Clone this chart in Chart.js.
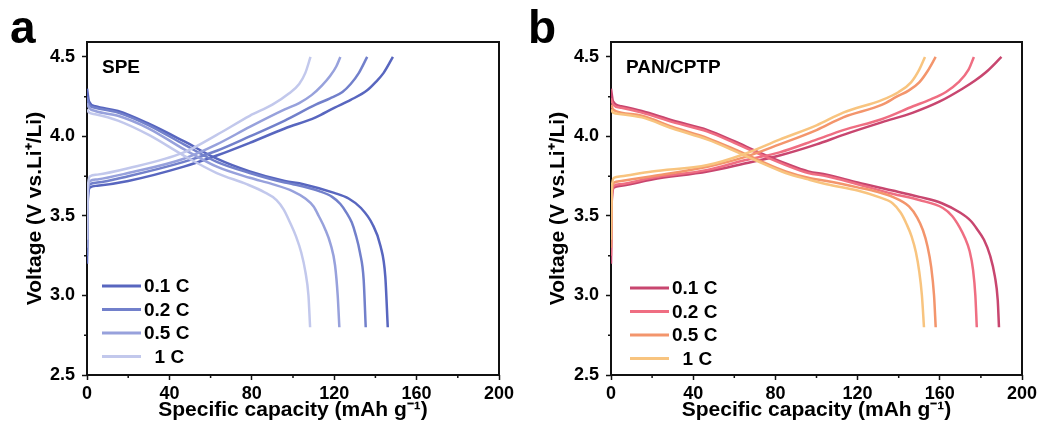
<!DOCTYPE html>
<html lang="en">
<head>
  <meta charset="UTF-8">
  <title>Charge / discharge curves</title>
  <script src="https://cdn.jsdelivr.net/npm/chart.js"></script>
  <style>
    body {
      margin: 0;
      background: #fff;
    }

    .panel {
      position: absolute;
      top: 0;
    }

    #panelA { left: 0; }
    #panelB { left: 520px; }
  </style>
</head>
<body>
  <div class="panel" id="panelA"><canvas id="speChart" width="520" height="434"></canvas></div>
  <div class="panel" id="panelB"><canvas id="panChart" width="524" height="434"></canvas></div>

  <script>
    const rates = ['0.1 C', '0.2 C', '0.5 C', '  1 C'];
    const xTicks = [0, 40, 80, 120, 160, 200];
    const xMinor = [20, 60, 100, 140, 180];
    const yTicks = [2.5, 3.0, 3.5, 4.0, 4.5];
    const yMinor = [2.75, 3.25, 3.75, 4.25];

    const speColors = ['#5866bf', '#7280cb', '#97a1dc', '#c2c8ec'];
    const panColors = ['#c8466f', '#ef6e82', '#f3956c', '#f8c47f'];

    // [capacity mAh/g, voltage V], one curve per rate
    const speCharge = [
      [[0, 3.2], [0.4, 3.6], [1.5, 3.68], [5, 3.69], [20, 3.72], [47, 3.81], [63, 3.88], [79, 3.96], [96, 4.05], [111, 4.12], [120, 4.18], [128, 4.23], [136, 4.29], [140, 4.34], [144, 4.40], [148.5, 4.5]],
      [[0, 3.25], [0.4, 3.62], [1.5, 3.70], [5, 3.71], [20, 3.75], [47, 3.84], [63, 3.91], [79, 4.00], [96, 4.10], [111, 4.20], [118, 4.24], [124, 4.28], [128, 4.33], [132, 4.40], [136, 4.5]],
      [[0, 3.3], [0.4, 3.65], [1.5, 3.72], [5, 3.73], [20, 3.77], [47, 3.86], [63, 3.95], [79, 4.06], [96, 4.17], [103, 4.21], [109, 4.26], [114, 4.32], [118, 4.38], [121, 4.44], [123, 4.5]],
      [[0, 3.35], [0.4, 3.68], [1.5, 3.75], [5, 3.76], [20, 3.80], [47, 3.90], [63, 4.01], [79, 4.13], [90, 4.20], [98, 4.27], [103, 4.33], [106, 4.40], [108.5, 4.5]]
    ];
    const speDischarge = [
      [[0, 4.30], [1, 4.22], [4, 4.19], [15, 4.16], [30, 4.08], [47, 3.97], [63, 3.86], [79, 3.78], [96, 3.72], [105, 3.70], [120, 3.645], [127, 3.61], [133, 3.55], [138.5, 3.45], [142.5, 3.31], [144.8, 3.12], [146, 2.8]],
      [[0, 4.25], [1, 4.20], [4, 4.18], [15, 4.15], [30, 4.07], [47, 3.95], [63, 3.84], [79, 3.77], [96, 3.71], [100, 3.70], [113, 3.655], [119, 3.62], [123, 3.575], [126, 3.52], [128.5, 3.46], [130.5, 3.38], [132.5, 3.27], [134.3, 3.10], [135.3, 2.8]],
      [[0, 4.21], [1, 4.18], [4, 4.16], [15, 4.13], [30, 4.05], [47, 3.92], [63, 3.81], [79, 3.74], [90, 3.70], [100, 3.655], [106, 3.61], [110, 3.56], [112.5, 3.50], [115.5, 3.42], [118.3, 3.32], [120.4, 3.19], [121.7, 3.0], [122.5, 2.8]],
      [[0, 4.17], [1, 4.15], [4, 4.14], [15, 4.10], [30, 4.01], [47, 3.88], [63, 3.77], [77.5, 3.70], [86, 3.65], [92, 3.60], [95.5, 3.54], [98.5, 3.46], [101.5, 3.37], [104, 3.27], [106, 3.15], [107.5, 3.0], [108.3, 2.8]]
    ];
    const panCharge = [
      [[0, 3.2], [0.4, 3.6], [1.5, 3.68], [5, 3.69], [20, 3.73], [47, 3.78], [65, 3.83], [82, 3.88], [100, 3.95], [113, 4.01], [132, 4.09], [147, 4.15], [160, 4.22], [171, 4.30], [177, 4.35], [183, 4.41], [190, 4.5]],
      [[0, 3.25], [0.4, 3.62], [1.5, 3.69], [5, 3.70], [20, 3.74], [47, 3.79], [65, 3.85], [82, 3.90], [100, 3.98], [113, 4.04], [132, 4.11], [147, 4.19], [155, 4.23], [163, 4.28], [169, 4.34], [174, 4.42], [176.6, 4.5]],
      [[0, 3.3], [0.4, 3.65], [1.5, 3.71], [5, 3.72], [20, 3.75], [47, 3.81], [65, 3.87], [82, 3.95], [100, 4.04], [113, 4.12], [132, 4.20], [139, 4.25], [145, 4.29], [150, 4.34], [154, 4.41], [158, 4.5]],
      [[0, 3.35], [0.4, 3.68], [1.5, 3.74], [5, 3.75], [20, 3.78], [47, 3.82], [65, 3.89], [82, 3.98], [100, 4.07], [113, 4.15], [132, 4.23], [140, 4.28], [146, 4.34], [150, 4.42], [152.8, 4.5]]
    ];
    const panDischarge = [
      [[0, 4.30], [1, 4.22], [5, 4.19], [15, 4.16], [30, 4.10], [47, 4.04], [60, 3.97], [72, 3.90], [85, 3.83], [96, 3.78], [105, 3.76], [120, 3.71], [137, 3.66], [150, 3.62], [161, 3.58], [170, 3.52], [175, 3.47], [178, 3.42], [181.5, 3.35], [184.5, 3.25], [186.8, 3.12], [188.2, 2.97], [188.8, 2.8]],
      [[0, 4.24], [1, 4.20], [5, 4.18], [15, 4.15], [30, 4.09], [47, 4.03], [60, 3.96], [72, 3.89], [85, 3.82], [96, 3.77], [105, 3.75], [120, 3.70], [137, 3.64], [150, 3.60], [161.5, 3.55], [166, 3.50], [169.6, 3.43], [172.3, 3.36], [174.5, 3.28], [176.2, 3.16], [177.3, 3.0], [178, 2.8]],
      [[0, 4.20], [1, 4.17], [5, 4.15], [15, 4.13], [30, 4.06], [47, 3.99], [60, 3.92], [72, 3.85], [85, 3.78], [96, 3.74], [105, 3.72], [120, 3.68], [130, 3.65], [137, 3.62], [145, 3.56], [149, 3.49], [151.8, 3.41], [154, 3.31], [155.8, 3.18], [157.2, 3.0], [158, 2.8]],
      [[0, 4.17], [1, 4.15], [5, 4.14], [15, 4.12], [30, 4.05], [47, 3.98], [60, 3.91], [72, 3.84], [85, 3.77], [96, 3.73], [105, 3.70], [120, 3.66], [130, 3.62], [137, 3.58], [141, 3.52], [143.8, 3.45], [146.3, 3.37], [148.4, 3.27], [150, 3.15], [151.3, 3.0], [152.3, 2.8]]
    ];

    const FONT = 'Arial, "Liberation Sans", sans-serif';

    // frame + minor ticks go under the curves, letter/name/legend on top
    const panelDecor = {
      id: 'panelDecor',
      beforeDatasetsDraw(chart) {
        const { ctx, chartArea: a, scales: { x, y } } = chart;
        ctx.save();
        ctx.strokeStyle = '#111';
        ctx.lineWidth = 1.5;
        ctx.beginPath();
        xMinor.forEach(v => {
          const px = x.getPixelForValue(v);
          ctx.moveTo(px, a.bottom);
          ctx.lineTo(px, a.bottom + 3);
        });
        yMinor.forEach(v => {
          const py = y.getPixelForValue(v);
          ctx.moveTo(a.left, py);
          ctx.lineTo(a.left - 3, py);
        });
        ctx.stroke();
        ctx.lineWidth = 2;
        ctx.strokeRect(a.left, a.top, a.right - a.left, a.bottom - a.top);
        ctx.restore();
      },
      afterDraw(chart, args, opts) {
        const { ctx, chartArea: a } = chart;
        ctx.save();
        ctx.fillStyle = '#000';
        ctx.textBaseline = 'alphabetic';
        ctx.font = 'bold 46px ' + FONT;
        ctx.fillText(opts.letter, opts.letterX, 43);
        ctx.font = 'bold 19px ' + FONT;
        ctx.fillText(opts.name, a.left + 15, 73);

        // datasets are stored lightest-first, legend lists fastest rate last
        const entries = chart.data.datasets.filter(ds => ds.inLegend).reverse();
        ctx.textBaseline = 'middle';
        entries.forEach((ds, row) => {
          const ly = opts.legendY + row * 23.5;
          ctx.strokeStyle = ds.borderColor;
          ctx.lineWidth = 3;
          ctx.beginPath();
          ctx.moveTo(a.left + opts.legendX, ly);
          ctx.lineTo(a.left + opts.legendX + 39, ly);
          ctx.stroke();
          ctx.fillText(ds.label, a.left + opts.legendX + 42, ly + 1);
        });
        ctx.restore();
      }
    };

    function buildDatasets(charge, discharge, colors) {
      const sets = [];
      rates.forEach((rate, i) => {
        [charge[i], discharge[i]].forEach((curve, k) => {
          sets.push({
            label: rate,
            inLegend: k === 0,
            data: curve.map(([x, y]) => ({ x, y })),
            borderColor: colors[i],
            borderWidth: 2.5,
            pointRadius: 0,
            cubicInterpolationMode: 'monotone',
            fill: false
          });
        });
      });
      // lightest curves at the bottom
      return sets.reverse();
    }

    function makeChart(canvasId, charge, discharge, colors, p) {
      return new Chart(document.getElementById(canvasId), {
        type: 'line',
        data: { datasets: buildDatasets(charge, discharge, colors) },
        options: {
          responsive: false,
          animation: false,
          layout: { padding: { top: 42, right: p.right, left: 0, bottom: 0 } },
          plugins: {
            legend: { display: false },
            tooltip: { enabled: false },
            panelDecor: p.decor
          },
          scales: {
            x: {
              type: 'linear',
              min: 0,
              max: 200,
              afterBuildTicks: s => { s.ticks = xTicks.map(value => ({ value })); },
              afterFit: s => { s.height = 59; },
              ticks: {
                autoSkip: false,
                maxRotation: 0,
                padding: 3,
                color: '#000',
                font: { family: FONT, size: 18, weight: 'bold' },
                callback: v => String(v)
              },
              grid: { drawOnChartArea: false, tickLength: 5, tickWidth: 1.5, tickColor: '#111' },
              border: { display: false },
              title: {
                display: true,
                text: 'Specific capacity (mAh g⁻¹)',
                color: '#000',
                font: { family: FONT, size: 21, weight: 'bold' },
                padding: { top: 0, bottom: 11 }
              }
            },
            y: {
              type: 'linear',
              min: 2.5,
              max: 4.594,
              afterBuildTicks: s => { s.ticks = yTicks.map(value => ({ value })); },
              afterFit: s => { s.width = p.yWidth; },
              ticks: {
                autoSkip: false,
                padding: 7,
                color: '#000',
                font: { family: FONT, size: 18, weight: 'bold' },
                callback: v => v.toFixed(1)
              },
              grid: { drawOnChartArea: false, tickLength: 5, tickWidth: 1.5, tickColor: '#111' },
              border: { display: false },
              title: {
                display: true,
                text: 'Voltage (V vs.Li⁺/Li)',
                color: '#000',
                font: { family: FONT, size: 21, weight: 'bold' },
                padding: { top: p.yTitlePad, bottom: 0 }
              }
            }
          }
        },
        plugins: [panelDecor]
      });
    }

    makeChart('speChart', speCharge, speDischarge, speColors, {
      right: 21, yWidth: 87, yTitlePad: 23,
      decor: { letter: 'a', letterX: 10, name: 'SPE', legendX: 15, legendY: 286 }
    });

    makeChart('panChart', panCharge, panDischarge, panColors, {
      right: 22, yWidth: 91, yTitlePad: 26,
      decor: { letter: 'b', letterX: 8, name: 'PAN/CPTP', legendX: 19, legendY: 288 }
    });
  </script>
</body>
</html>
